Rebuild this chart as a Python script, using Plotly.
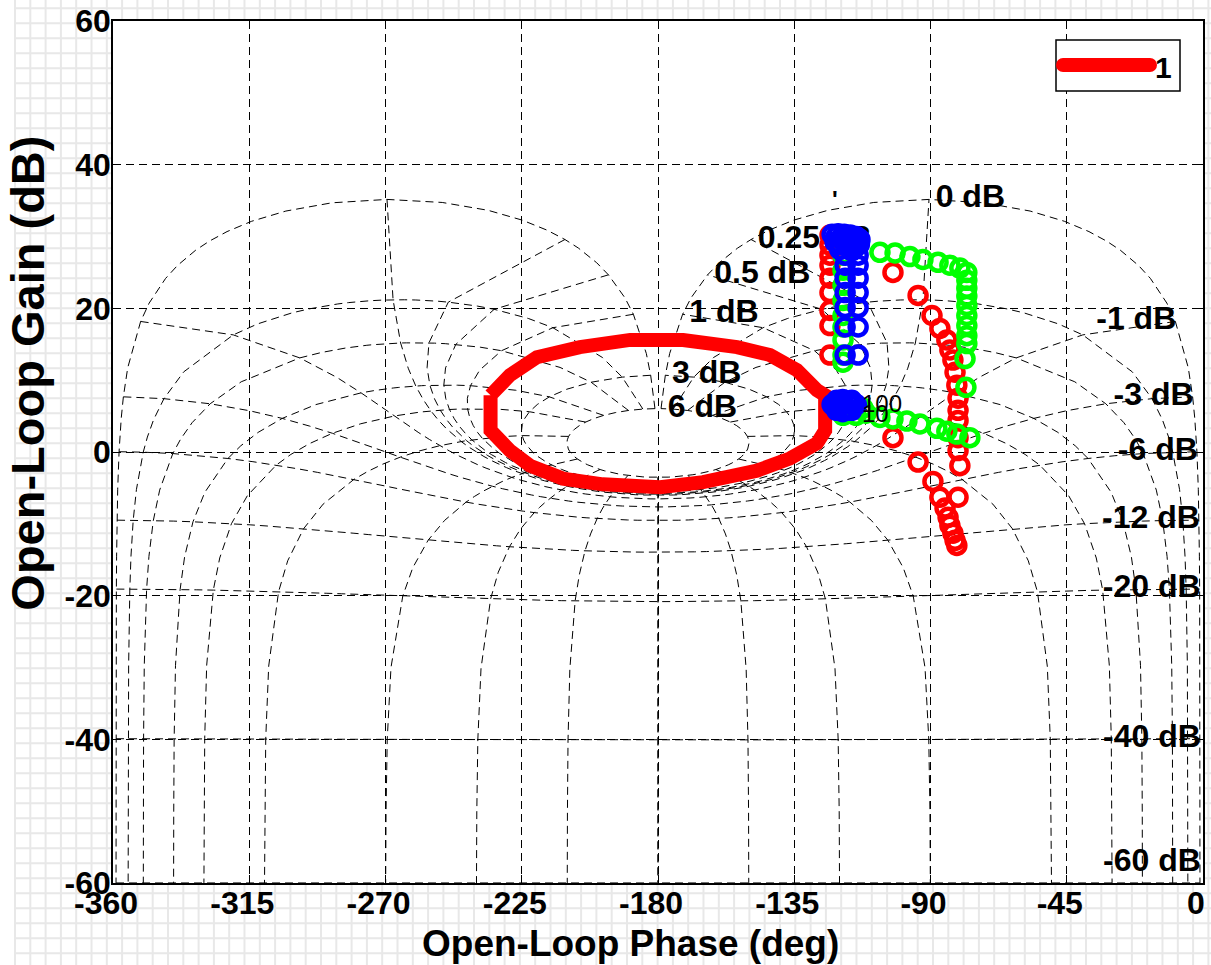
import numpy as np
import plotly.graph_objects as go

# ---------------- data ----------------
x_tick_vals = [-360, -315, -270, -225, -180, -135, -90, -45, 0]
x_tick_text = ["-360", "-315", "-270", "-225", "-180", "-135", "-90", "-45", "0"]
y_tick_vals = [-60, -40, -20, 0, 20, 40, 60]
y_tick_text = ["-60", "-40", "-20", "0", "20", "40", "60"]

# thick red boundary loop (legend "1")
loop_phase = [-235.3, -235.3, -228.9, -222.3, -211.4, -198.2, -179.3, -165.1, -147.3, -136.4,
              -127.5, -124.8, -124.8, -127.5, -134.1, -143.0, -153.9, -171.7, -189.2, -205.8,
              -220.0, -228.9, -235.3]
loop_gain = [7.9, 3.0, 0.2, -1.9, -3.7, -4.5, -4.9, -4.2, -2.6, -0.9,
             1.2, 3.0, 7.9, 8.6, 11.4, 13.5, 14.6, 15.6, 15.6, 14.6,
             13.2, 10.7, 7.9]

# red circles
red_phase = [-123.2, -123.2, -123.2, -123.2, -123.2, -123.2, -123.2, -123.2, -123.2, -122.5,
             -102.4, -94.1, -89.5, -86.9, -84.6, -83.6, -82.6, -81.9, -81.3, -80.9, -80.9, -80.9, -80.9, -80.9,
             -102.4, -94.1, -89.2, -86.9, -85.2, -84.2, -83.6, -82.6, -81.9, -81.3,
             -80.3, -80.9]
red_gain = [30.2, 28.8, 27.4, 26.0, 24.2, 22.2, 19.7, 17.6, 13.5, 6.5,
            25.0, 21.8, 19.0, 17.2, 15.6, 14.2, 12.8, 11.1, 9.3, 7.5, 5.8, 4.4, 2.0, 0.2,
            2.0, -1.4, -4.1, -6.3, -7.8, -9.1, -10.2, -11.3, -12.3, -13.0,
            -1.9, -6.3]

# green circles
green_phase = [-118.9, -118.9, -118.9, -118.9, -118.9, -118.9, -118.9, -118.9, -118.9, -118.9,
               -118.9, -114.6, -111.3,
               -115.9, -106.7, -101.7, -96.8, -92.5, -87.5, -83.6, -80.3, -78.0,
               -78.0, -78.0, -78.0, -78.0, -78.0, -78.0, -78.0, -78.0, -78.6, -78.3,
               -112.3, -106.7, -102.4, -97.8, -93.5, -87.9, -84.6, -81.3, -77.0]
green_gain = [29.5, 27.4, 25.3, 23.2, 21.1, 19.0, 17.4, 15.6, 13.5, 12.5,
              5.1, 5.1, 5.4,
              29.8, 27.8, 27.7, 27.2, 26.8, 26.4, 26.0, 25.6, 25.0,
              23.9, 22.8, 21.7, 20.4, 19.0, 17.6, 16.2, 15.1, 13.0, 9.0,
              6.1, 4.8, 4.6, 4.3, 3.9, 3.3, 2.9, 2.5, 2.0]

# blue circles
blue_phase = [-121.2, -119.2, -117.3, -115.3, -113.3, -119.9, -117.3, -114.6,
              -122.5, -120.5, -118.5, -116.5, -114.5, -121.5, -119.0, -116.0, -113.5, -120.0, -116.0,
              -118.2, -113.9, -118.2, -113.9, -118.2, -113.9, -118.2, -113.9,
              -118.2, -113.9, -118.2, -113.9, -118.2, -113.9,
              -121.9, -120.6, -118.9, -117.3, -115.6, -117.3, -120.6, -118.9,
              -122.5, -121.0, -116.0, -114.5, -116.0, -121.0, -119.0, -119.0]
blue_gain = [30.0, 30.0, 29.9, 29.8, 29.6, 28.9, 28.8, 28.6,
             30.3, 30.4, 30.3, 30.2, 30.0, 29.2, 29.4, 29.2, 28.9, 28.2, 28.0,
             27.4, 27.4, 26.0, 26.0, 24.2, 24.2, 22.2, 22.2,
             20.1, 20.1, 17.4, 17.4, 13.5, 13.5,
             6.5, 6.9, 7.0, 6.9, 6.5, 5.9, 5.9, 5.8,
             6.6, 7.2, 7.2, 6.6, 5.8, 5.8, 7.3, 5.6]

# frequency labels
freq_text = ["100", "10"]
freq_phase = [-112.3, -112.3]
freq_gain = [6.8, 5.4]

# Nichols chart grid definition (closed-loop values)
GMIN = -60
iso_phase_deg = [1, 5, 10, 20, 30, 50, 90, 120, 150, 180]
iso_phase_gains_db = [6, 3, 2, 1, .75, .5, .4, .3, .25, .2, .15, .1, .05, 0, -.05, -.1, -.15,
                      -.2, -.25, -.3, -.4, -.5, -.75, -1, -2, -3, -4, -5, -6, -9, -12, -16,
                      -20, -30, -40, -50, -60]
iso_gain_db = [6, 3, 1, .5, .25, 0, -1, -3, -6, -12, -20, -40, -60]
iso_gain_labels = ["6 dB", "3 dB", "1 dB", "0.5 dB", "0.25 dB", "0 dB", "-1 dB", "-3 dB",
                   "-6 dB", "-12 dB", "-20 dB", "-40 dB", "-60 dB"]
iso_gain_phases = [1] + list(range(5, 356, 5)) + [359]


def open_loop(mag_db, ph_deg):
    z = 10 ** (np.asarray(mag_db, float) / 20) * np.exp(1j * np.deg2rad(np.asarray(ph_deg, float)))
    h = z / (1 - z)
    g = 20 * np.log10(np.abs(h))
    p = np.mod(np.rad2deg(np.angle(h)) + 360, 360) - 360
    return p, g


gx, gy = [], []
for ph in iso_phase_deg:
    p, g = open_loop(iso_phase_gains_db, [ph] * len(iso_phase_gains_db))
    gx += list(p) + [None] + list(-360 - p) + [None]
    gy += list(g) + [None] + list(g) + [None]
for gm in iso_gain_db:
    p, g = open_loop([gm] * len(iso_gain_phases), iso_gain_phases)
    gx += list(p) + [None]
    gy += list(g) + [None]

# label anchor points: the 359-degree end of every iso-gain curve
lab_x_pos, lab_y_pos, lab_t_pos = [], [], []
lab_x_neg, lab_y_neg, lab_t_neg = [], [], []
lab_x_bot, lab_y_bot, lab_t_bot = [], [], []
for gm, lab in zip(iso_gain_db, iso_gain_labels):
    p, g = open_loop([gm], [359])
    p, g = float(p[0]), float(g[0])
    if gm >= 0:
        lab_x_pos.append(p + 2.2); lab_y_pos.append(g); lab_t_pos.append(lab)
    elif g <= GMIN + 1:
        lab_x_bot.append(p + 0.3); lab_y_bot.append(GMIN + 0.6); lab_t_bot.append(lab)
    else:
        lab_x_neg.append(p + 0.3); lab_y_neg.append(g); lab_t_neg.append(lab)

FONT = "Liberation Sans, Arial, Helvetica, sans-serif"
LBL = 32
lblfont = dict(family=FONT, size=LBL, color="black", weight="bold")

fig = go.Figure()
fig.add_trace(go.Scatter(x=gx, y=gy, mode="lines", hoverinfo="skip", showlegend=False,
                         line=dict(color="black", width=1, dash="8px,5px")))
for xs, ys, ts, pos in [(lab_x_pos, lab_y_pos, lab_t_pos, "middle right"),
                        (lab_x_neg, lab_y_neg, lab_t_neg, "middle left"),
                        (lab_x_bot, lab_y_bot, lab_t_bot, "top left")]:
    fig.add_trace(go.Scatter(x=xs, y=ys, text=ts, mode="text", textposition=pos,
                             textfont=lblfont, hoverinfo="skip", showlegend=False, cliponaxis=False))
fig.add_trace(go.Scatter(x=loop_phase, y=loop_gain, mode="lines", name="1", showlegend=False,
                         line=dict(color="#ff0000", width=14)))
for ph, gn, col in [(red_phase, red_gain, "#ff0000"), (green_phase, green_gain, "#00ff00"),
                    (blue_phase, blue_gain, "#0000ff")]:
    fig.add_trace(go.Scatter(x=ph, y=gn, mode="markers", showlegend=False,
                             marker=dict(symbol="circle-open", size=17, color=col,
                                         line=dict(color=col, width=4.5))))

annotations = []
for t, px_, gy_ in zip(freq_text, freq_phase, freq_gain):
    annotations.append(dict(x=px_, y=gy_, text=t, showarrow=False, xanchor="left", yanchor="middle",
                            xshift=-3, font=dict(family=FONT, size=24, color="black")))
annotations.append(dict(x=-121.5, y=35.2, text="'", showarrow=False,
                        font=dict(family=FONT, size=24, color="black", weight="bold")))

# axis titles
annotations.append(dict(xref="paper", yref="paper", x=0.475, y=-0.07, text="Open-Loop Phase (deg)",
                        showarrow=False, xanchor="center", yanchor="middle",
                        font=dict(family=FONT, size=37, color="black", weight="bold")))
annotations.append(dict(xref="paper", yref="paper", x=-0.078, y=0.592, text="Open-Loop Gain (dB)",
                        showarrow=False, xanchor="center", yanchor="middle", textangle=-90,
                        font=dict(family=FONT, size=47, color="black", weight="bold")))

# ---------------- layout furniture ----------------
W, H = 1211, 965
L, R, T, B = 113, 8, 21, 82
pw, ph_ = W - L - R, H - T - B


def px(xp):
    return (xp - L) / pw


def py(yp):
    return (H - B - yp) / ph_


# legend text
annotations.append(dict(xref="paper", yref="paper", x=px(1153), y=py(67), text="1", showarrow=False,
                        xanchor="left", yanchor="middle",
                        font=dict(family=FONT, size=30, color="black", weight="bold")))

segs = []
xv = 15.0
while xv < W:
    segs.append(f"M{px(xv):.5f},{py(0):.5f}L{px(xv):.5f},{py(H):.5f}")
    xv += 15.3
yv = 8.3
while yv < H:
    segs.append(f"M{px(15):.5f},{py(yv):.5f}L{px(W):.5f},{py(yv):.5f}")
    yv += 15.0

shapes = [
    dict(type="path", xref="paper", yref="paper", path="".join(segs), layer="below",
         line=dict(color="#e8e8e8", width=2)),
    dict(type="rect", xref="paper", yref="paper", x0=0, x1=1, y0=0, y1=1, layer="below",
         fillcolor="white", line=dict(width=0)),
    # legend box
    dict(type="rect", xref="paper", yref="paper", x0=px(1056), x1=px(1180), y0=py(91), y1=py(40),
         fillcolor="white", line=dict(color="black", width=1.5)),
    dict(type="line", xref="paper", yref="paper", x0=px(1063), x1=px(1150), y0=py(65), y1=py(65),
         line=dict(color="#ff0000", width=14)),
    dict(type="circle", xref="paper", yref="paper", xsizemode="pixel", ysizemode="pixel",
         xanchor=px(1063), yanchor=py(65), x0=-7, x1=7, y0=-7, y1=7,
         fillcolor="#ff0000", line=dict(width=0)),
    dict(type="circle", xref="paper", yref="paper", xsizemode="pixel", ysizemode="pixel",
         xanchor=px(1150), yanchor=py(65), x0=-7, x1=7, y0=-7, y1=7,
         fillcolor="#ff0000", line=dict(width=0)),
]

axis_common = dict(showline=True, linecolor="black", linewidth=1.5, mirror="allticks",
                   ticks="inside", ticklen=8, tickcolor="black", showgrid=True,
                   gridcolor="black", gridwidth=1, griddash="8px,5px", zeroline=False,
                   automargin=False,
                   tickfont=dict(family=FONT, size=32, color="black", weight="bold"))

fig.update_layout(
    width=W, height=H, autosize=False,
    margin=dict(l=L, r=R, t=T, b=B),
    paper_bgcolor="white", plot_bgcolor="white",
    showlegend=False,
    xaxis=dict(range=[-360, 0], tickvals=x_tick_vals, ticktext=x_tick_text,
               ticklabelshift=-7, ticklabelstandoff=-9, **axis_common),
    yaxis=dict(range=[-60, 60], tickvals=y_tick_vals, ticktext=y_tick_text,
               ticklabelstandoff=-6, **axis_common),
    shapes=shapes, annotations=annotations,
)

fig.write_html("out.html", config={"displayModeBar": False},
               post_script="document.body.style.margin='0';document.body.style.overflow='hidden';")
